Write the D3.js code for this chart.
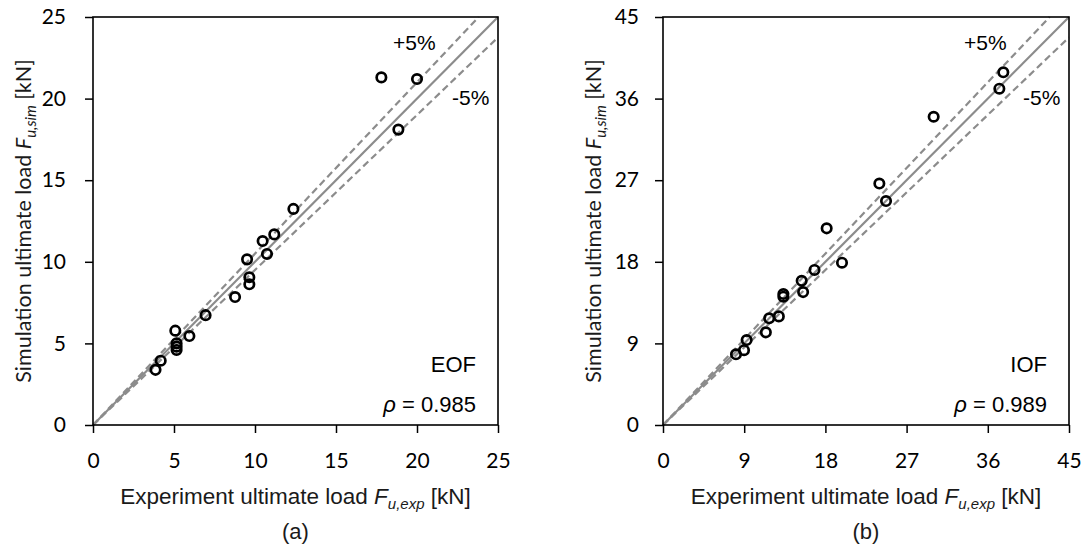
<!DOCTYPE html>
<html>
<head>
<meta charset="utf-8">
<script src="https://cdn.jsdelivr.net/npm/d3@7"></script>
<style>
  body { margin: 0; background: #fff; }
  .tick text { font-family: Lato, "Open Sans", sans-serif; font-size: 21px; fill: #000; }
</style>
</head>
<body>
<div id="chart"></div>
<script>
// EOF data (panel a)
const eofExp = [17.8, 20.0, 18.85, 12.37, 11.19, 10.47, 10.74, 9.51, 9.65, 9.65, 8.77, 6.95, 5.95, 5.08, 5.16, 5.16, 5.16, 4.18, 3.86];
const eofSim = [21.3, 21.2, 18.1, 13.24, 11.68, 11.27, 10.48, 10.15, 9.05, 8.62, 7.84, 6.73, 5.45, 5.78, 5.0, 4.8, 4.6, 3.94, 3.38];
const eofTicks = [0, 5, 10, 15, 20, 25];

// IOF data (panel b)
const iofExp = [37.72, 37.28, 30.0, 23.98, 24.72, 18.14, 19.84, 16.79, 15.37, 15.53, 13.34, 13.34, 12.84, 11.77, 11.4, 9.27, 8.98, 8.09];
const iofSim = [38.9, 37.09, 34.0, 26.63, 24.7, 21.69, 17.9, 17.1, 15.9, 14.66, 14.45, 14.15, 11.98, 11.77, 10.22, 9.37, 8.25, 7.8];
const iofTicks = [0, 9, 18, 27, 36, 45];

const panels = [
  { exp: eofExp, sim: eofSim, ticks: eofTicks, name: "EOF", rho: "0.985", tag: "(a)", left: 93, right: 498, ypad: 19 },
  { exp: iofExp, sim: iofSim, ticks: iofTicks, name: "IOF", rho: "0.989", tag: "(b)", left: 663, right: 1069, ypad: 16 }
];

const plotTop = 17, plotBottom = 425;
const grey = "#8c8c8c";

const svg = d3.select("#chart")
  .append("svg")
    .attr("width", 1088)
    .attr("height", 548);

panels.forEach(function(p) {
  const max = p.ticks[p.ticks.length - 1];
  const x = d3.scaleLinear().domain([0, max]).range([p.left, p.right]);
  const y = d3.scaleLinear().domain([0, max]).range([plotBottom, plotTop]);
  const g = svg.append("g");

  // reference lines: 1:1 and +/-5%
  const refs = [
    { pts: [[0, 0], [max, max]], dash: null },
    { pts: [[0, 0], [max / 1.05, max]], dash: "7,4" },
    { pts: [[0, 0], [max, max * 0.95]], dash: "7,4" }
  ];
  g.selectAll(".ref")
    .data(refs)
    .join("path")
      .attr("class", "ref")
      .attr("d", d => d3.line().x(v => x(v[0])).y(v => y(v[1]))(d.pts))
      .attr("fill", "none")
      .attr("stroke", grey)
      .attr("stroke-width", 2.2)
      .attr("stroke-dasharray", d => d.dash);

  // axes
  g.append("g")
    .attr("transform", `translate(0, ${plotBottom})`)
    .call(d3.axisBottom(x).tickValues(p.ticks).tickSize(8).tickPadding(20).tickSizeOuter(0))
    .call(a => a.select(".domain").remove());
  g.append("g")
    .attr("transform", `translate(${p.left}, 0)`)
    .call(d3.axisLeft(y).tickValues(p.ticks).tickSize(8).tickPadding(p.ypad).tickSizeOuter(0))
    .call(a => a.select(".domain").remove());
  g.selectAll(".tick line").attr("stroke", "#000").attr("stroke-width", 1.5);

  // frame
  g.append("rect")
    .attr("x", p.left).attr("y", plotTop)
    .attr("width", p.right - p.left).attr("height", plotBottom - plotTop)
    .attr("fill", "none").attr("stroke", "#000").attr("stroke-width", 1.6);

  // points
  g.selectAll("circle")
    .data(p.exp.map((v, i) => [v, p.sim[i]]))
    .join("circle")
      .attr("cx", d => x(d[0]))
      .attr("cy", d => y(d[1]))
      .attr("r", 4.7)
      .attr("fill", "none")
      .attr("stroke", "#000")
      .attr("stroke-width", 2.7);

  const txt = (sx, sy, anchor, size) => g.append("text")
    .attr("x", sx).attr("y", sy)
    .attr("text-anchor", anchor)
    .attr("font-family", "'Liberation Sans', Arial, sans-serif")
    .attr("font-size", size)
    .attr("fill", "#000");

  txt(p.right - 105, 50, "start", 21).text("+5%");
  txt(p.right - 46, 105, "start", 21).text("-5%");
  txt(p.right - 22, 372, "end", 22).text(p.name);
  const r = txt(p.right - 22, 412, "end", 22);
  r.append("tspan").attr("font-style", "italic").text("ρ");
  r.append("tspan").text(" = " + p.rho);

  // x title
  const cx = (p.left + p.right) / 2;
  const xt = g.append("text")
    .attr("x", cx).attr("y", 504)
    .attr("text-anchor", "middle")
    .attr("font-family", "'Liberation Sans', Arial, sans-serif")
    .attr("font-size", 22.5)
    .attr("fill", "#1a1a1a");
  xt.append("tspan").text("Experiment ultimate load ");
  xt.append("tspan").attr("font-style", "italic").text("F");
  xt.append("tspan").attr("font-style", "italic").attr("font-size", 15).attr("dy", 5).text("u,exp");
  xt.append("tspan").attr("dy", -5).text(" [kN]");

  g.append("text")
    .attr("x", cx).attr("y", 539)
    .attr("text-anchor", "middle")
    .attr("font-family", "'Liberation Sans', Arial, sans-serif")
    .attr("font-size", 22)
    .attr("fill", "#1a1a1a")
    .text(p.tag);

  // y title
  const yt = g.append("text")
    .attr("transform", `translate(${p.left - 62}, ${(plotTop + plotBottom) / 2}) rotate(-90)`)
    .attr("text-anchor", "middle")
    .attr("font-family", "Lato, 'Open Sans', sans-serif")
    .attr("font-size", 21.5)
    .attr("fill", "#1a1a1a");
  yt.append("tspan").text("Simulation ultimate load ");
  yt.append("tspan").attr("font-style", "italic").text("F");
  yt.append("tspan").attr("font-style", "italic").attr("font-size", 15).attr("dy", 5).text("u,sim");
  yt.append("tspan").attr("dy", -5).text(" [kN]");
});
</script>
</body>
</html>
